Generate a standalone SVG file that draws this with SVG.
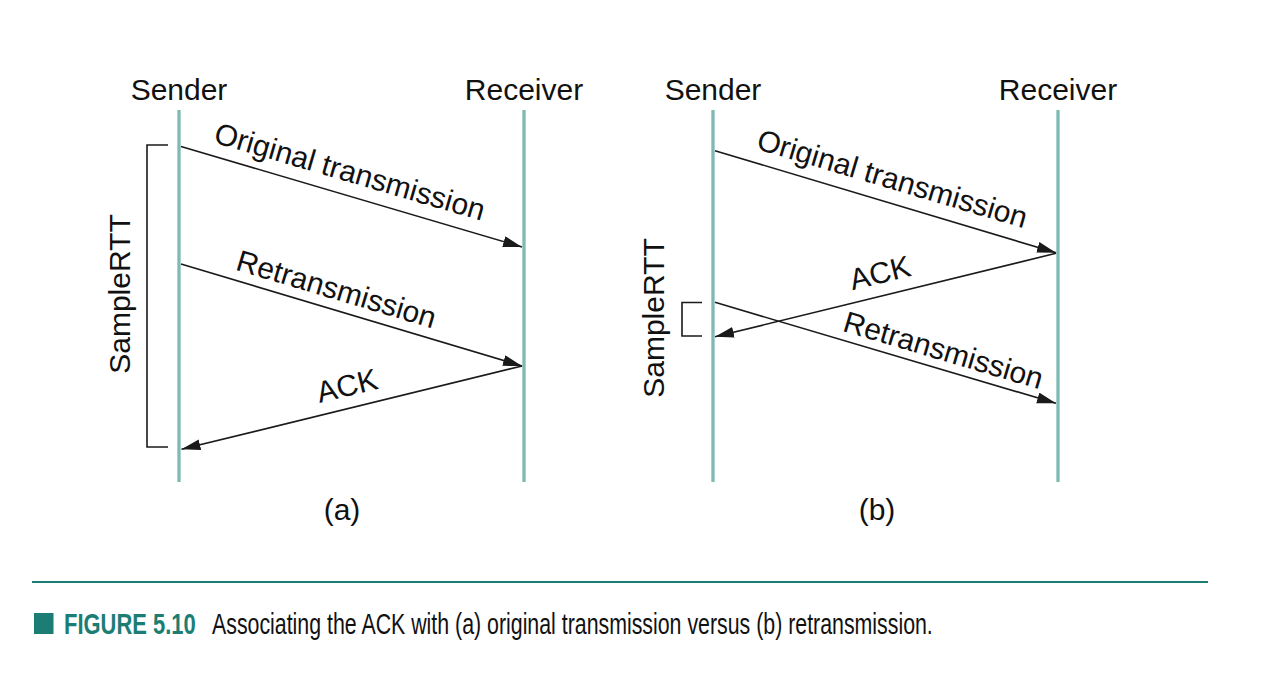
<svg xmlns="http://www.w3.org/2000/svg" width="1270" height="698" viewBox="0 0 1270 698">
  <style>
    .lbl { font-family: "Liberation Sans", Arial, sans-serif; font-size: 30px; fill: #111; }
    .life { stroke: #7fb9b3; stroke-width: 3.3; fill: none; }
    .msg { stroke: #1a1a1a; stroke-width: 1.6; fill: none; marker-end: url(#ah); }
    .brk { stroke: #1a1a1a; stroke-width: 1.6; fill: none; }
    .cap { font-family: "Liberation Sans Narrow", "Liberation Sans", Arial, sans-serif; font-size: 30px; }
  </style>
  <defs>
    <marker id="ah" markerUnits="userSpaceOnUse" markerWidth="20" markerHeight="12" refX="19" refY="5.5" orient="auto">
      <path d="M0,0 L19,5.5 L0,11 z" fill="#1a1a1a"/>
    </marker>
  </defs>
  <rect width="1270" height="698" fill="#fff"/>

  <!-- Panel (a) -->
  <g id="a-sender">
    <text class="lbl" x="179" y="100" text-anchor="middle">Sender</text>
    <line class="life" x1="179" y1="110" x2="179" y2="482"/>
  </g>
  <g id="a-receiver">
    <text class="lbl" x="524" y="100" text-anchor="middle">Receiver</text>
    <line class="life" x1="524" y1="110" x2="524" y2="482"/>
  </g>
  <g id="a-samplertt">
    <path class="brk" d="M168,145 H147 V447 H168"/>
    <text class="lbl" transform="translate(130,294) rotate(-90)" text-anchor="middle">SampleRTT</text>
  </g>
  <g id="a-caption">
    <text class="lbl" x="342" y="520" text-anchor="middle">(a)</text>
  </g>

  <!-- Panel (b) -->
  <g id="b-sender">
    <text class="lbl" x="713" y="100" text-anchor="middle">Sender</text>
    <line class="life" x1="713" y1="110" x2="713" y2="482"/>
  </g>
  <g id="b-receiver">
    <text class="lbl" x="1058" y="100" text-anchor="middle">Receiver</text>
    <line class="life" x1="1058" y1="110" x2="1058" y2="482"/>
  </g>
  <g id="b-samplertt">
    <path class="brk" d="M702,302.5 H682 V336 H702"/>
    <text class="lbl" transform="translate(664,318) rotate(-90)" text-anchor="middle">SampleRTT</text>
  </g>
  <g id="b-caption">
    <text class="lbl" x="877" y="520" text-anchor="middle">(b)</text>
  </g>

  <!-- Connectors -->
  <g id="connectors">
    <line class="msg" x1="181" y1="146.5" x2="522" y2="247"/>
    <text class="lbl" transform="translate(347,181.5) rotate(16.3)" text-anchor="middle">Original transmission</text>
    <line class="msg" x1="181" y1="264" x2="522" y2="366"/>
    <text class="lbl" transform="translate(333.5,299) rotate(16.6)" text-anchor="middle">Retransmission</text>
    <line class="msg" x1="522" y1="366" x2="181.5" y2="449.3"/>
    <text class="lbl" transform="translate(349.5,395.8) rotate(-13.7)" text-anchor="middle">ACK</text>

    <line class="msg" x1="715" y1="150.7" x2="1056" y2="252.8"/>
    <text class="lbl" transform="translate(889.5,188.5) rotate(16.5)" text-anchor="middle">Original transmission</text>
    <line class="msg" x1="1056" y1="253.3" x2="715" y2="336.8"/>
    <text class="lbl" transform="translate(882.5,282.8) rotate(-13.8)" text-anchor="middle">ACK</text>
    <line class="msg" x1="715" y1="302.3" x2="1056" y2="403.3"/>
    <text class="lbl" transform="translate(940.5,360) rotate(16.5)" text-anchor="middle">Retransmission</text>
  </g>

  <!-- Figure caption -->
  <g id="figure-caption">
    <line x1="32" y1="582" x2="1208" y2="582" stroke="#1b7d73" stroke-width="2"/>
    <rect x="34" y="613" width="19.5" height="21" fill="#1b7d73"/>
    <text class="cap" transform="translate(64,634) scale(0.72,1)" font-weight="bold" fill="#1b7d73" textLength="183" lengthAdjust="spacingAndGlyphs">FIGURE 5.10</text>
    <text class="cap" transform="translate(212,634) scale(0.85,1)" fill="#111" textLength="848" lengthAdjust="spacingAndGlyphs">Associating the ACK with (a) original transmission versus (b) retransmission.</text>
  </g>
</svg>
